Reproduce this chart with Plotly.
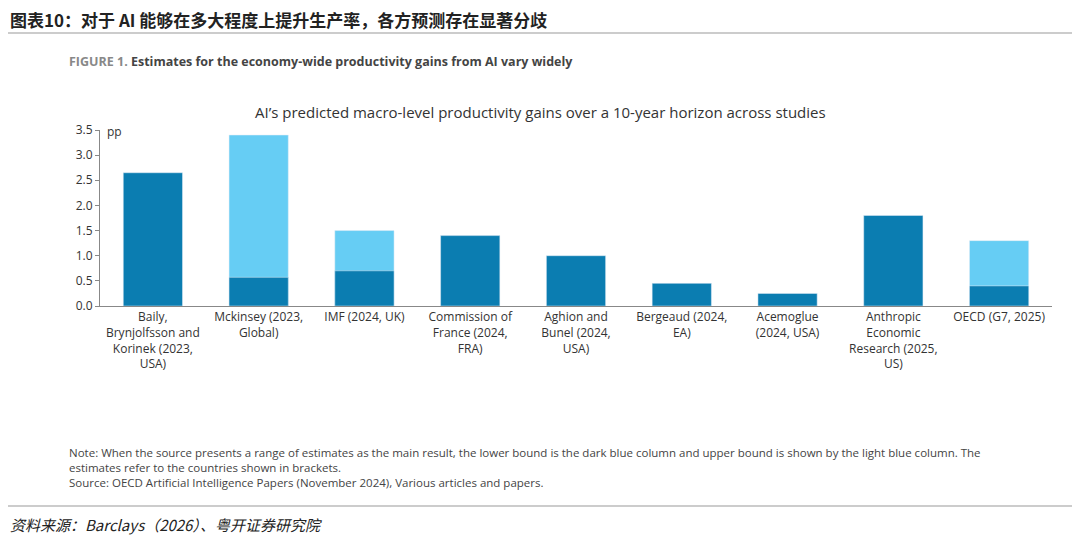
import plotly.graph_objects as go

categories = [
    "Baily,<br>Brynjolfsson and<br>Korinek (2023,<br>USA)",
    "Mckinsey (2023,<br>Global)",
    "IMF (2024, UK)",
    "Commission of<br>France (2024,<br>FRA)",
    "Aghion and<br>Bunel (2024,<br>USA)",
    "Bergeaud (2024,<br>EA)",
    "Acemoglue<br>(2024, USA)",
    "Anthropic<br>Economic<br>Research (2025,<br>US)",
    "OECD (G7, 2025)",
]
lower = [2.65, 0.57, 0.70, 1.40, 1.00, 0.45, 0.25, 1.80, 0.40]
upper = [None, 3.40, 1.50, None, None, None, None, None, 1.30]
y_ticks = [0.0, 0.5, 1.0, 1.5, 2.0, 2.5, 3.0, 3.5]

DARK = "#0b7db1"
LIGHT = "#66cdf4"
FONT = "Open Sans"

# page is drawn with an 8px body offset, so work in screen coords and shift
W, H, OFF = 1072, 535, 8
L, R, T, B = 92, 28, 122, 237

fig = go.Figure()
fig.add_trace(go.Bar(x=categories, y=upper, marker_color=LIGHT, width=0.56, showlegend=False))
fig.add_trace(go.Bar(x=categories, y=lower, marker_color=DARK, width=0.56, showlegend=False))

fig.update_layout(
    width=W, height=H,
    barmode="overlay",
    plot_bgcolor="white", paper_bgcolor="white",
    margin=dict(l=L, r=R, t=T, b=B),
    font=dict(family=FONT, size=12, color="#333"),
)
fig.update_yaxes(
    range=[0, 3.5], tickvals=y_ticks, tickformat=".1f",
    showgrid=False, showline=True, linecolor="#888", ticks="outside",
    ticklen=4, tickcolor="#888", tickfont=dict(size=12, color="#333"),
)
fig.update_xaxes(
    showline=True, linecolor="#888", tickfont=dict(size=12, color="#333"),
    tickangle=0,
)

def px(x):
    return (x - OFF - L) / (W - L - R)

def py(y):
    return (H - B - (y - OFF)) / (H - T - B)

def txt(x, y, s, size=12, color="#333", family=FONT, xanchor="left"):
    fig.add_annotation(x=px(x), y=py(y), xref="paper", yref="paper", text=s, showarrow=False,
                       xanchor=xanchor, yanchor="middle", align="left",
                       font=dict(size=size, color=color, family=family))

txt(8, 19, "<b>图表10：对于 AI 能够在多大程度上提升生产率，各方预测存在显著分歧</b>",
    size=17, color="#222", family="Noto Sans CJK SC")
txt(67, 62, "<b><span style='color:#888'>FIGURE 1.</span> Estimates for the economy-wide productivity gains from AI vary widely</b>",
    size=12.5, color="#444")
txt(540, 112, "AI’s predicted macro-level productivity gains over a 10-year horizon across studies",
    size=15, color="#333", xanchor="center")
txt(105, 131, "pp", size=12)
txt(67, 467,
    "Note: When the source presents a range of estimates as the main result, the lower bound is the dark blue column and upper bound is shown by the light blue column. The<br>estimates refer to the countries shown in brackets.<br>Source: OECD Artificial Intelligence Papers (November 2024), Various articles and papers.",
    size=11.5, color="#444")
txt(8, 524, "<i>资料来源：Barclays（2026）、粤开证券研究院</i>", size=15, color="#222",
    family="Noto Sans CJK SC")

for yline in [33, 506]:
    fig.add_shape(type="line", xref="paper", yref="paper", x0=px(0), x1=px(1080),
                  y0=py(yline), y1=py(yline), line=dict(color="#999", width=1))

fig.write_html("out.html")
